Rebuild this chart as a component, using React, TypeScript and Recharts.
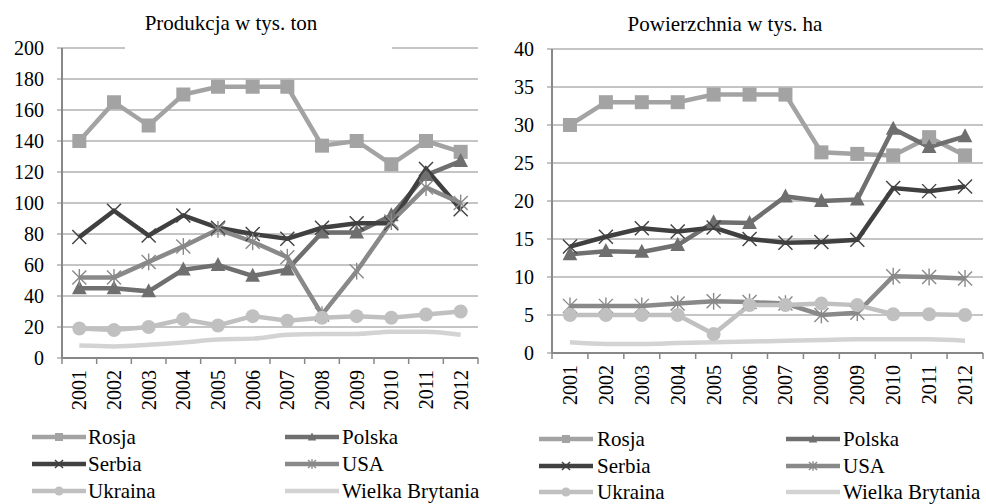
import React from "react";
import { CartesianGrid, Line, LineChart, XAxis, YAxis } from "recharts";

const years = ["2001", "2002", "2003", "2004", "2005", "2006", "2007", "2008", "2009", "2010", "2011", "2012"];

const countries = ["Rosja", "Polska", "Serbia", "USA", "Ukraina", "Wielka Brytania"];

// Produkcja w tys. ton
const prodRosja = [140, 165, 150, 170, 175, 175, 175, 137, 140, 125, 140, 133];
const prodPolska = [45, 45, 43, 57, 60, 53, 57, 81, 81, 92, 118, 127];
const prodSerbia = [78, 95, 79, 92, 84, 80, 77, 84, 87, 87, 122, 96];
const prodUsa = [52, 52, 62, 72, 83, 75, 65, 28, 56, 88, 110, 100];
const prodUkraina = [19, 18, 20, 25, 21, 27, 24, 26, 27, 26, 28, 30];
const prodWB = [8, 7.5, 8.5, 10, 12, 12.5, 15, 15.5, 15.5, 17, 17, 15];
const prodTicks = [0, 20, 40, 60, 80, 100, 120, 140, 160, 180, 200];

// Powierzchnia w tys. ha
const areaRosja = [30, 33, 33, 33, 34, 34, 34, 26.4, 26.2, 26, 28.4, 26];
const areaPolska = [13, 13.4, 13.3, 14.2, 17.2, 17.1, 20.6, 20, 20.2, 29.5, 27.1, 28.5];
const areaSerbia = [14, 15.3, 16.4, 16, 16.5, 15, 14.5, 14.6, 14.9, 21.7, 21.3, 21.9];
const areaUsa = [6.2, 6.2, 6.2, 6.5, 6.8, 6.7, 6.5, 5, 5.3, 10.1, 10, 9.8];
const areaUkraina = [5, 5, 5, 5, 2.5, 6.3, 6.3, 6.5, 6.3, 5.1, 5.1, 5];
const areaWB = [1.4, 1.2, 1.2, 1.3, 1.4, 1.5, 1.6, 1.7, 1.8, 1.8, 1.8, 1.6];
const areaTicks = [0, 5, 10, 15, 20, 25, 30, 35, 40];

const colors = ["#a3a3a3", "#6f6f6f", "#404040", "#898989", "#c0c0c0", "#d3d3d3"];
const shapes = ["square", "triangle", "x", "star", "circle", "none"];

const FONT = "Liberation Serif, Times New Roman, DejaVu Serif, serif";
const AXIS = "#888888";

const buildRows = (series: number[][]) =>
  years.map((year, i) => {
    const row: Record<string, string | number> = { year };
    countries.forEach((c, k) => (row[c] = series[k][i]));
    return row;
  });

const prodData = buildRows([prodRosja, prodPolska, prodSerbia, prodUsa, prodUkraina, prodWB]);
const areaData = buildRows([areaRosja, areaPolska, areaSerbia, areaUsa, areaUkraina, areaWB]);

function Marker({ shape, cx, cy, color, s }: { shape: string; cx: number; cy: number; color: string; s: number }) {
  if (cx == null || cy == null) return null;
  if (shape === "square") return <rect x={cx - s} y={cy - s} width={s * 2} height={s * 2} fill={color} />;
  if (shape === "circle") return <circle cx={cx} cy={cy} r={s} fill={color} />;
  if (shape === "triangle")
    return (
      <polygon
        points={`${cx},${cy - s * 1.15} ${cx - s * 1.05},${cy + s * 0.85} ${cx + s * 1.05},${cy + s * 0.85}`}
        fill={color}
      />
    );
  if (shape === "x" || shape === "star")
    return (
      <g stroke={color} strokeWidth={1.4}>
        <line x1={cx - s} y1={cy - s} x2={cx + s} y2={cy + s} />
        <line x1={cx - s} y1={cy + s} x2={cx + s} y2={cy - s} />
        {shape === "star" && <line x1={cx} y1={cy - s * 1.2} x2={cx} y2={cy + s * 1.2} />}
      </g>
    );
  return null;
}

function YearTick(props: any) {
  const { x, y, payload, index, band } = props;
  const axisY = y - 12;
  return (
    <g>
      <line x1={x - band / 2} y1={axisY} x2={x - band / 2} y2={axisY + 6} stroke={AXIS} strokeWidth={1.5} />
      {index === years.length - 1 && (
        <line x1={x + band / 2} y1={axisY} x2={x + band / 2} y2={axisY + 6} stroke={AXIS} strokeWidth={1.5} />
      )}
      <text
        x={x}
        y={y}
        transform={`rotate(-90, ${x}, ${y})`}
        textAnchor="end"
        dominantBaseline="central"
        fontSize={20}
        style={{ fontFamily: FONT }}
        fill="#000"
      >
        {payload.value}
      </text>
    </g>
  );
}

function Panel(props: {
  data: Record<string, string | number>[];
  width: number;
  plotRight: number;
  plotTop: number;
  plotBottom: number;
  ticks: number[];
}) {
  const { data, width, plotRight, plotTop, plotBottom, ticks } = props;
  const height = 420;
  const band = (width - 62 - plotRight) / years.length;
  return (
    <LineChart
      width={width}
      height={height}
      data={data}
      margin={{ top: plotTop, right: plotRight, left: 0, bottom: 0 }}
      style={{ fontFamily: FONT }}
    >
      <CartesianGrid vertical={false} stroke="#8a8a8a" strokeWidth={1} />
      <XAxis
        dataKey="year"
        height={height - plotBottom}
        padding={{ left: band / 2, right: band / 2 }}
        axisLine={{ stroke: AXIS, strokeWidth: 2 }}
        tickLine={false}
        tickSize={6}
        tickMargin={6}
        interval={0}
        tick={<YearTick band={band} />}
      />
      <YAxis
        width={62}
        domain={[ticks[0], ticks[ticks.length - 1]]}
        ticks={ticks}
        interval={0}
        axisLine={{ stroke: AXIS, strokeWidth: 2 }}
        tickLine={{ stroke: AXIS, strokeWidth: 1 }}
        tickSize={5}
        tickMargin={13}
        tick={{ fontSize: 20, fill: "#000", style: { fontFamily: FONT } }}
      />
      {countries.map((c, k) => (
        <Line
          key={c}
          dataKey={c}
          type={shapes[k] === "none" ? "monotone" : "linear"}
          stroke={colors[k]}
          strokeWidth={4.5}
          isAnimationActive={false}
          activeDot={false}
          dot={(p: any) => (
            <Marker key={`${c}-${p.index}`} shape={shapes[k]} cx={p.cx} cy={p.cy} color={colors[k]} s={7} />
          )}
        />
      ))}
    </LineChart>
  );
}

function Legend(props: { cols: { line: number; text: number }[]; rows: number[] }) {
  const { cols, rows } = props;
  return (
    <g>
      {countries.map((c, k) => {
        const col = cols[k % 2];
        const y = rows[Math.floor(k / 2)];
        const x1 = col.line;
        const x2 = col.line + 54;
        return (
          <g key={c}>
            <line x1={x1} y1={y} x2={x2} y2={y} stroke={colors[k]} strokeWidth={4.5} />
            <Marker shape={shapes[k]} cx={(x1 + x2) / 2} cy={y} color={colors[k]} s={shapes[k] === "circle" ? 4.5 : 4} />
            <text x={col.text} y={y} dominantBaseline="central" fontSize={21} style={{ fontFamily: FONT }} fill="#000">
              {c}
            </text>
          </g>
        );
      })}
    </g>
  );
}

export default function App() {
  return (
    <div
      style={{
        position: "absolute",
        left: 0,
        top: 0,
        width: 986,
        height: 504,
        background: "#fff",
        fontFamily: FONT,
      }}
    >
      <div style={{ position: "absolute", left: 0, top: 0 }}>
        <Panel data={prodData} width={490} plotRight={12} plotTop={48} plotBottom={358} ticks={prodTicks} />
      </div>
      <div style={{ position: "absolute", left: 490, top: 0 }}>
        <Panel data={areaData} width={496} plotRight={3} plotTop={49} plotBottom={353} ticks={areaTicks} />
      </div>
      <svg width={986} height={504} style={{ position: "absolute", left: 0, top: 0, pointerEvents: "none" }}>
        <rect x={125} y={44} width={267} height={8} fill="#fff" />
        <text x={231} y={30} textAnchor="middle" fontSize={21} style={{ fontFamily: FONT }} fill="#000">
          Produkcja w tys. ton
        </text>
        <text x={725} y={31} textAnchor="middle" fontSize={21} style={{ fontFamily: FONT }} fill="#000">
          Powierzchnia w tys. ha
        </text>
        <Legend cols={[{ line: 32, text: 88 }, { line: 285, text: 342 }]} rows={[437, 464, 491]} />
        <Legend cols={[{ line: 539, text: 597 }, { line: 786, text: 843 }]} rows={[439, 466, 492]} />
      </svg>
    </div>
  );
}
